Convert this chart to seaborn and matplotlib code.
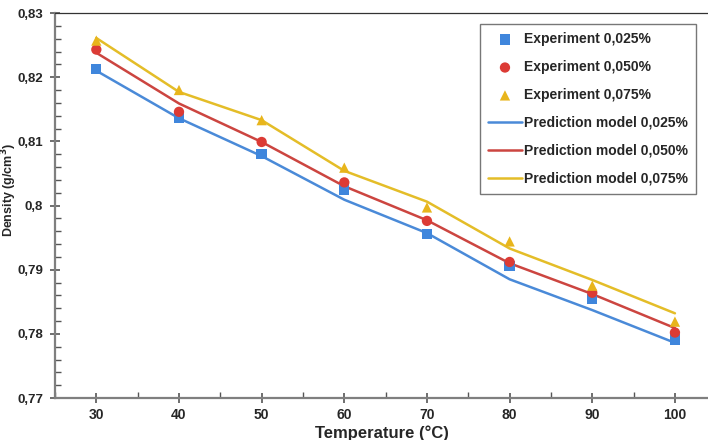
import numpy as np
import pandas as pd
import matplotlib
matplotlib.use("Agg")
import matplotlib.pyplot as plt
import seaborn as sns
from matplotlib.ticker import MultipleLocator, FuncFormatter

sns.set_style("white")
plt.rcParams['font.family'] = ['Liberation Sans', 'DejaVu Sans']
plt.rcParams['font.weight'] = 'bold'

# data
temps = [30, 40, 50, 60, 70, 80, 90, 100]
exp_025 = [0.8213, 0.8137, 0.8080, 0.8025, 0.7956, 0.7906, 0.7854, 0.7791]
exp_050 = [0.8243, 0.8146, 0.8099, 0.8036, 0.7976, 0.7912, 0.7864, 0.7802]
exp_075 = [0.8257, 0.8180, 0.8133, 0.8059, 0.7997, 0.7944, 0.7875, 0.7819]
pred_025 = [0.8210, 0.8136, 0.8077, 0.8009, 0.7957, 0.7885, 0.7837, 0.7786]
pred_050 = [0.8238, 0.8159, 0.8099, 0.8030, 0.7977, 0.7910, 0.7862, 0.7809]
pred_075 = [0.8261, 0.8177, 0.8133, 0.8054, 0.8006, 0.7933, 0.7884, 0.7832]

conc = ['0,025%', '0,050%', '0,075%']
marker_colors = ['#3f86dc', '#dc3b35', '#e8b51c']
line_colors = ['#4a8ad8', '#cc4540', '#e4bd28']
markers = ['s', 'o', '^']

fig = plt.figure(figsize=(7.08, 4.4), dpi=100)
ax = fig.add_axes([55/708, 1 - 398/440, 1 - 55/708, (398 - 13)/440])

for vals, c, m, name in zip([exp_025, exp_050, exp_075], marker_colors, markers, conc):
    df = pd.DataFrame({'T': temps, 'rho': vals})
    sns.scatterplot(data=df, x='T', y='rho', ax=ax, color=c, marker=m, s=55,
                    edgecolor='none', label=f'Experiment {name}', zorder=3)

for vals, c, name in zip([pred_025, pred_050, pred_075], line_colors, conc):
    df = pd.DataFrame({'T': temps, 'rho': vals})
    sns.lineplot(data=df, x='T', y='rho', ax=ax, color=c, linewidth=1.8,
                 label=f'Prediction model {name}', zorder=2)

ax.set_xlim(25, 104)
ax.set_ylim(0.77, 0.83)
ax.xaxis.set_major_locator(MultipleLocator(10))
ax.xaxis.set_minor_locator(MultipleLocator(5))
ax.yaxis.set_major_locator(MultipleLocator(0.01))
ax.yaxis.set_minor_locator(MultipleLocator(0.002))

def comma_fmt(v, pos):
    s = f'{v:.2f}'.rstrip('0').rstrip('.')
    return s.replace('.', ',')

ax.yaxis.set_major_formatter(FuncFormatter(comma_fmt))
ax.xaxis.set_major_formatter(FuncFormatter(lambda v, p: f'{v:.0f}' if 30 <= v <= 100 else ''))

ax.tick_params(axis='both', which='major', direction='inout', length=7, width=1.2,
               color='#555555', labelsize=10)
ax.tick_params(axis='y', which='major', pad=5, labelsize=9.5)
ax.tick_params(axis='x', which='major', pad=4)
ax.tick_params(axis='both', which='minor', direction='in', length=4, width=1,
               color='#555555')
ax.tick_params(left=True, bottom=True, which='both')
for lab in ax.get_xticklabels() + ax.get_yticklabels():
    lab.set_fontweight('bold')

for side in ['left', 'bottom']:
    ax.spines[side].set_color('#7f7f7f')
    ax.spines[side].set_linewidth(1.6)
ax.spines['top'].set_color('#333333')
ax.spines['top'].set_linewidth(0.9)
ax.spines['right'].set_visible(False)

ax.set_xlabel('Temperature (°C)', fontsize=12, fontweight='bold', labelpad=2)
ax.set_ylabel('Density (g/cm$^\\mathbf{3}$)', fontsize=9, fontweight='bold')
ax.yaxis.set_label_coords(-0.0551, 0.54)

leg = ax.legend(loc='upper right', bbox_to_anchor=(703/708, 1 - 17/440),
                bbox_transform=fig.transFigure, frameon=True, fancybox=False,
                edgecolor='#555555', handlelength=2.4,
                handletextpad=0.15, labelspacing=1.0, borderpad=0.6,
                prop={'weight': 'bold', 'size': 10})
leg.get_frame().set_linewidth(1.0)

fig.savefig('out.png', dpi=100)
